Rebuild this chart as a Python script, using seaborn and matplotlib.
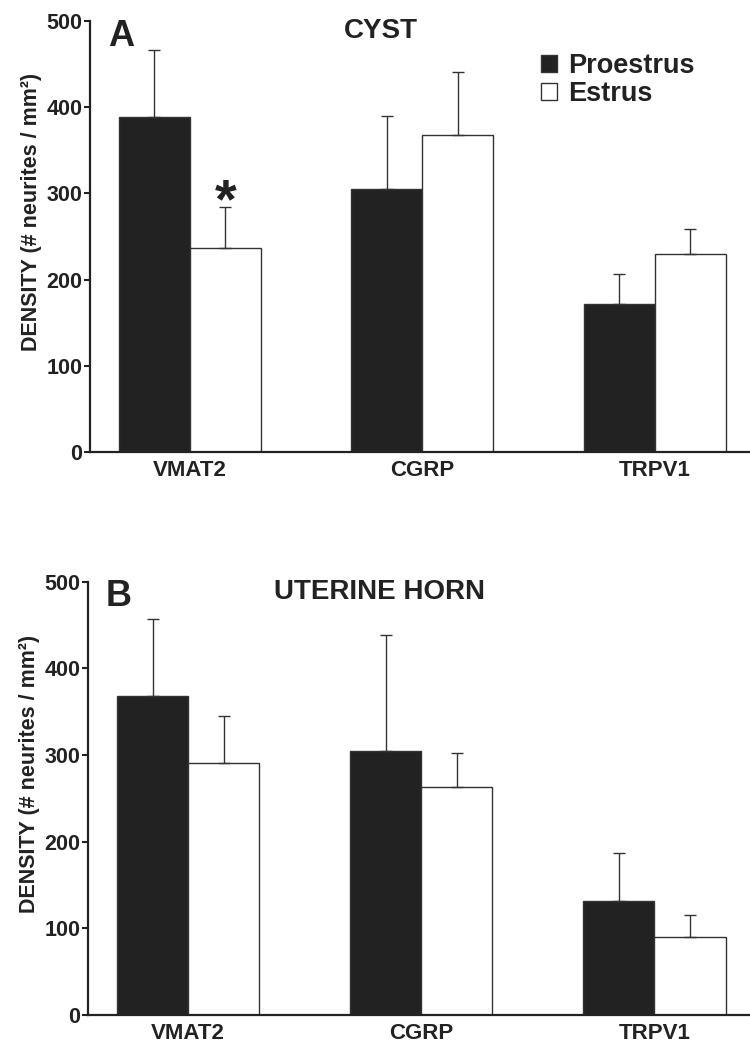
import matplotlib
matplotlib.use('Agg')
import matplotlib.pyplot as plt
import seaborn as sns
import pandas as pd
import numpy as np

# ---- data ----
markers = ['VMAT2', 'CGRP', 'TRPV1']
phases = ['Proestrus', 'Estrus']

cyst_proestrus = [389, 305, 172]
cyst_proestrus_err = [77, 85, 34]
cyst_estrus = [237, 368, 230]
cyst_estrus_err = [47, 73, 29]

horn_proestrus = [368, 304, 132]
horn_proestrus_err = [89, 134, 55]
horn_estrus = [291, 263, 90]
horn_estrus_err = [54, 39, 25]

yticks = [0, 100, 200, 300, 400, 500]
ylabel = 'DENSITY (# neurites / mm²)'

sns.set_style('ticks')
plt.rcParams['font.family'] = ['Liberation Sans', 'DejaVu Sans']
plt.rcParams['font.weight'] = 'bold'
plt.rcParams['text.color'] = '#222222'
plt.rcParams['axes.labelcolor'] = '#222222'
plt.rcParams['xtick.color'] = '#222222'
plt.rcParams['ytick.color'] = '#222222'

DARK = '#222222'
EDGE = '#333333'


def make_df(pro, est):
    return pd.DataFrame({
        'marker': markers * 2,
        'phase': [phases[0]] * 3 + [phases[1]] * 3,
        'density': pro + est,
    })


def draw_panel(ax, pro, pro_err, est, est_err, letter, title, legend=False):
    df = make_df(pro, est)
    sns.barplot(data=df, x='marker', y='density', hue='phase', order=markers,
                hue_order=phases, palette={'Proestrus': DARK, 'Estrus': 'white'},
                edgecolor=EDGE, linewidth=1.0, width=0.61, errorbar=None,
                legend=False, ax=ax)
    # upward-only error bars with caps
    for cont, err in zip(ax.containers, [pro_err, est_err]):
        xs = [p.get_x() + p.get_width() / 2 for p in cont.patches]
        hs = [p.get_height() for p in cont.patches]
        ax.errorbar(xs, hs, yerr=[np.zeros(len(err)), err], fmt='none',
                    ecolor=EDGE, elinewidth=1.0, capsize=4.5, capthick=1.0,
                    zorder=1)
    ax.set_xlim(-0.43, 2.41)
    ax.set_ylim(0, 500)
    ax.set_yticks(yticks)
    ax.set_xlabel('')
    ax.set_ylabel(ylabel, fontsize=15.5, fontweight='bold')
    ax.yaxis.set_label_coords(-0.072, 0.556)
    ax.tick_params(axis='y', length=4.5, width=1.5, pad=1, labelsize=15.5)
    ax.tick_params(axis='x', length=0, pad=6, labelsize=16)
    for lab in ax.get_xticklabels() + ax.get_yticklabels():
        lab.set_fontweight('bold')
    sns.despine(ax=ax)
    ax.spines['left'].set_linewidth(1.6)
    ax.spines['bottom'].set_linewidth(1.6)
    ax.spines['left'].set_color(DARK)
    ax.spines['bottom'].set_color(DARK)
    ax.text(0.027, 1.005, letter, transform=ax.transAxes, ha='left', va='top',
            fontsize=26, fontweight='bold')
    ax.text(0.441, 0.976, title, transform=ax.transAxes, ha='center',
            va='center', fontsize=20, fontweight='bold')
    if legend:
        ax.legend(handles=ax.containers, labels=phases, loc='upper left',
                  bbox_to_anchor=(0.683, 0.925), frameon=False,
                  handlelength=0.6, handleheight=0.6, handletextpad=0.4,
                  labelspacing=0.08, borderpad=0, borderaxespad=0,
                  prop={'weight': 'bold', 'size': 19.5})
    return ax


fig = plt.figure(figsize=(7.5, 10.47), dpi=100)
axA = fig.add_axes([0.12, 0.5683, 0.88, 0.4117])
axB = fig.add_axes([0.1173, 0.0306, 0.8827, 0.4139])

draw_panel(axA, cyst_proestrus, cyst_proestrus_err, cyst_estrus, cyst_estrus_err,
           'A', 'CYST', legend=True)
draw_panel(axB, horn_proestrus, horn_proestrus_err, horn_estrus, horn_estrus_err,
           'B', 'UTERINE HORN')

# significance mark above VMAT2 estrus bar
est_bar = axA.containers[1].patches[0]
axA.text(est_bar.get_x() + est_bar.get_width() / 2,
         cyst_estrus[0] + cyst_estrus_err[0] - 12, '*', ha='center',
         va='baseline', fontsize=40, fontweight='bold')

fig.savefig('out.png', dpi=100)
